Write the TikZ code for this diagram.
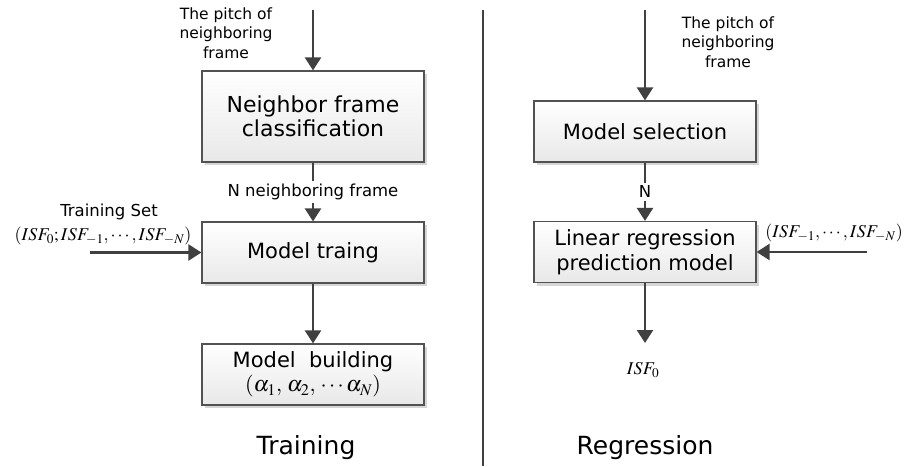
\documentclass[tikz,border=0pt]{standalone}
\usepackage{mathptmx}
\usepackage{fontspec}
\setmainfont{DejaVu Sans}
\usetikzlibrary{arrows.meta}
\usetikzlibrary{shadows}

\tikzset{
    block/.style={draw=black!68, line width=1.2pt, top color=white, bottom color=black!9,
        minimum width=222pt, minimum height=61pt, align=center, inner sep=2pt,
        font=\fontsize{21}{24.5}\selectfont,
        drop shadow={shadow xshift=3pt, shadow yshift=-3pt, fill=black!16, opacity=1}},
    note/.style={align=center, inner sep=1pt, font=\fontsize{15.5}{19.5}\selectfont},
    vec/.style={inner sep=1pt, font=\fontsize{18}{21}\selectfont},
    title/.style={font=\fontsize{25}{28}\selectfont},
    flow/.style={draw=black!75, line width=2.5pt, -{Triangle[length=13pt,width=16pt]}}
}

\begin{document}
\begin{tikzpicture}[x=1pt, y=-1pt]

    \useasboundingbox (0,0) rectangle (907,466);

    % Training side

    \node[block, minimum height=91pt, font=\fontsize{22}{24.5}\selectfont] (cls) at (313,116.5) {Neighbor frame\\classification};
    \node[block]                      (trn) at (313,252.5) {Model traing};
    \node[block]                      (bld) at (313,374.5) {Model~ building\\{\fontsize{22}{24}\selectfont$(\alpha_1,\,\alpha_2,\,\cdots\alpha_N)$}};

    \node[note] (pitchL) at (226,33) {The pitch of\\neighboring\\frame};
    \node[note, font=\fontsize{16.5}{19.5}\selectfont] (tset) at (109,212) {Training Set};
    \node[vec]  (setL)   at (103,236) {$(ISF_0;ISF_{-1},\cdots,ISF_{-N})$};
    \node[title] (trainT) at (306,448) {Training};

    \coordinate (inL)  at (313,10);
    \coordinate (setA) at (90,252.5);

    \draw[flow] (inL) -- (cls);
    \draw[flow] (cls) -- node[note, fill=white, inner sep=3pt, font=\fontsize{16.5}{19.5}\selectfont] (nlab) {N neighboring frame} (trn);
    \draw[flow] (setA) -- (trn);
    \draw[flow] (trn) -- (bld);

    % divider

    \coordinate (divT) at (483,10);
    \coordinate (divB) at (483,466);
    \draw[draw=black!75, line width=2pt] (divT) -- (divB);

    % Regression side

    \node[block] (sel) at (645,131.5) {Model selection};
    \node[block] (lin) at (645,252) {Linear regression\\prediction model};

    \node[note]  (pitchR) at (728,42) {The pitch of\\neighboring\\frame};
    \node[vec]   (setR)   at (834,233) {$(ISF_{-1},\cdots,ISF_{-N})$};
    \node[vec]   (isf)    at (643,370) {$ISF_0$};
    \node[title] (regT)   at (645,448) {Regression};

    \coordinate (inR)  at (645,10);
    \coordinate (setB) at (867,252);
    \coordinate (outR) at (645,343);

    \draw[flow] (inR) -- (sel);
    \draw[flow] (sel) -- node[note, fill=white, inner sep=3pt, font=\fontsize{16.5}{19.5}\selectfont] (nR) {N} (lin);
    \draw[flow] (setB) -- (lin);
    \draw[flow] (lin) -- (outR);

\end{tikzpicture}
\end{document}
